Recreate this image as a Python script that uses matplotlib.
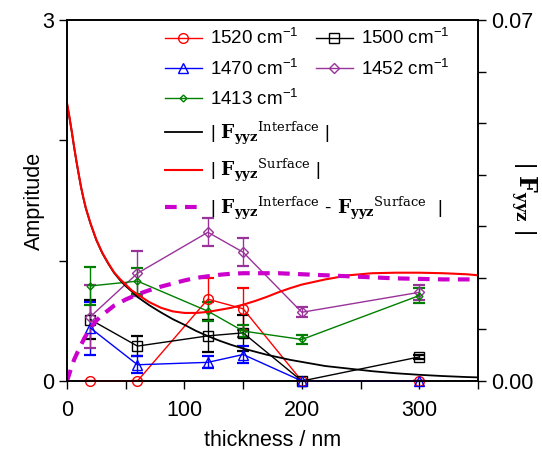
import matplotlib
matplotlib.use("Agg")
import matplotlib.pyplot as plt
from matplotlib.ticker import FixedLocator, FixedFormatter

plt.rcParams['font.family'] = ['Liberation Sans', 'DejaVu Sans']
plt.rcParams['mathtext.fontset'] = 'custom'
plt.rcParams['mathtext.rm'] = 'Liberation Sans'
plt.rcParams['mathtext.bf'] = 'DejaVu Serif:bold'
plt.rcParams['mathtext.sf'] = 'DejaVu Serif'
plt.rcParams['mathtext.it'] = 'DejaVu Serif:italic'

# ---------------- data (left axis, Amplitude) ----------------
thickness = [20, 60, 120, 150, 200, 300]

amp_1520 = [0.0, 0.0, 0.68, 0.60, 0.0, 0.0]
err_1520 = [0.0, 0.0, 0.175, 0.175, 0.0, 0.0]

amp_1500 = [0.51, 0.29, 0.375, 0.40, 0.0, 0.20]
err_1500 = [0.16, 0.08, 0.135, 0.15, 0.0, 0.02]

amp_1470 = [0.44, 0.135, 0.155, 0.22, 0.0, 0.0]
err_1470 = [0.22, 0.07, 0.05, 0.07, 0.0, 0.0]

amp_1413 = [0.79, 0.83, 0.58, 0.415, 0.345, 0.71]
err_1413 = [0.16, 0.105, 0.08, 0.05, 0.035, 0.065]

amp_1452 = [0.535, 0.895, 1.236, 1.07, 0.571, 0.737]
err_1452 = [0.26, 0.185, 0.115, 0.117, 0.04, 0.06]

# ---------------- model curves (right axis, |F_yyz|) ----------------
curve_x = [0, 2, 4, 6, 8, 10, 12, 14, 16, 18, 20, 25, 30, 35, 40, 45, 50, 55, 60,
           70, 80, 90, 100, 110, 120, 130, 140, 150, 160, 170, 180, 190, 200,
           220, 240, 260, 280, 300, 320, 340, 350]

f_surface = [0.0539, 0.0513, 0.0485, 0.0455, 0.0427, 0.0401, 0.0376, 0.0355, 0.0336,
             0.0321, 0.0306, 0.0274, 0.0249, 0.0229, 0.0211, 0.0198, 0.0187, 0.0176,
             0.0168, 0.0153, 0.0142, 0.0135, 0.0132, 0.0132, 0.0134, 0.0138, 0.0142,
             0.0148, 0.0155, 0.0163, 0.0172, 0.0180, 0.0187, 0.0197, 0.0205, 0.0209,
             0.0210, 0.0210, 0.0209, 0.0207, 0.0205]

f_interface = [0.0538, 0.0512, 0.0484, 0.0454, 0.0426, 0.0400, 0.0375, 0.0354, 0.0335,
               0.0320, 0.0305, 0.0273, 0.0248, 0.0228, 0.0210, 0.0196, 0.0184, 0.0174,
               0.0163, 0.0147, 0.0133, 0.0120, 0.0109, 0.0097, 0.0087, 0.0078, 0.0070,
               0.0063, 0.0057, 0.0051, 0.0046, 0.0041, 0.0037, 0.0029, 0.0024, 0.0019,
               0.0015, 0.0012, 0.00096, 0.00077, 0.0007]

diff_x = [0, 2, 4, 6, 8, 10, 15, 20, 25, 30, 40, 50, 60, 70, 80, 90, 100, 110, 120,
          130, 140, 150, 160, 180, 200, 220, 240, 260, 280, 300, 320, 350]
f_diff = [0.0, 0.0014, 0.0028, 0.0041, 0.0051, 0.0061, 0.0084, 0.0103, 0.0117, 0.0128,
          0.0146, 0.0158, 0.0168, 0.0176, 0.0183, 0.0189, 0.0195, 0.0200, 0.0203,
          0.0206, 0.0208, 0.0209, 0.0209, 0.0209, 0.0207, 0.0205, 0.0203, 0.0201,
          0.0199, 0.0198, 0.0197, 0.0197]

labels_data = ['1520 cm$^{-1}$', '1500 cm$^{-1}$', '1470 cm$^{-1}$',
               '1452 cm$^{-1}$', '1413 cm$^{-1}$']
label_int = r'$|\ \mathbf{F}_{\mathbf{yyz}}{}^{\mathsf{Interface}}\ |$'
label_surf = r'$|\ \mathbf{F}_{\mathbf{yyz}}{}^{\mathsf{Surface}}\ |$'
label_diff = (r'$|\ \mathbf{F}_{\mathbf{yyz}}{}^{\mathsf{Interface}}\ \text{-}\ '
              r'\mathbf{F}_{\mathbf{yyz}}{}^{\mathsf{Surface}}\ \ |$')

# ---------------- figure ----------------
W, H = 542, 454
fig = plt.figure(figsize=(W / 100, H / 100), dpi=100)
ax = fig.add_axes([67 / W, 1 - 381 / H, (478 - 67) / W, (381 - 20) / H])

RED = '#FF0000'
BLUE = '#0000FF'
GREEN = '#007F00'
PURPLE = '#993399'
MAG = '#CC00CC'

series = [
    (amp_1520, err_1520, RED, 'o', 7, labels_data[0]),
    (amp_1500, err_1500, 'black', 's', 7, labels_data[1]),
    (amp_1470, err_1470, BLUE, '^', 7, labels_data[2]),
    (amp_1452, err_1452, PURPLE, 'D', 5.5, labels_data[3]),
    (amp_1413, err_1413, GREEN, 'D', 3.5, labels_data[4]),
]
handles = {}
for y, e, c, m, ms, lab in series:
    ax.errorbar(thickness, y, yerr=e, fmt='none', ecolor=c, elinewidth=1.0,
                capsize=4, capthick=1.6, zorder=2)
    h, = ax.plot(thickness, y, color=c, lw=1.0, marker=m, ms=ms,
                 mfc='none', mec=c, mew=1.0, label=lab, zorder=3, clip_on=False)
    handles[lab] = h

ax.set_xlim(0, 350)
ax.set_ylim(0, 3)
ax.xaxis.set_major_locator(FixedLocator([0, 50, 100, 150, 200, 250, 300, 350]))
ax.xaxis.set_major_formatter(FixedFormatter(['0', '', '100', '', '200', '', '300', '']))
ax.yaxis.set_major_locator(FixedLocator([0, 1, 2, 3]))
ax.yaxis.set_major_formatter(FixedFormatter(['0', '', '', '3']))
ax.tick_params(direction='out', length=6, width=1.0, labelsize=15.5, colors='black')
ax.tick_params(axis='x', pad=8)
for s in ax.spines.values():
    s.set_linewidth(1.2)
ax.set_xlabel('thickness / nm', fontsize=15.5, labelpad=6)
ax.set_ylabel('Ampritude', fontsize=15.5, labelpad=-2)

ax2 = ax.twinx()
ax2.set_ylim(0, 0.07)
ax2.yaxis.set_major_locator(FixedLocator([0, 0.01, 0.02, 0.03, 0.04, 0.05, 0.06, 0.07]))
ax2.yaxis.set_major_formatter(FixedFormatter(['0.00', '', '', '', '', '', '', '0.07']))
ax2.tick_params(direction='out', length=6, width=1.0, labelsize=15.5)
for s in ax2.spines.values():
    s.set_linewidth(1.2)

h_int, = ax2.plot(curve_x, f_interface, color='black', lw=1.3, label=label_int)
h_surf, = ax2.plot(curve_x, f_surface, color=RED, lw=1.5, label=label_surf)
h_diff, = ax2.plot(diff_x, f_diff, color=MAG, lw=3.0, ls=(0, (2.8, 2.0)), label=label_diff)

fig.text(523 / W, 1 - 198 / H, r'$|\ \mathbf{F}_{\mathbf{yyz}}\ |$', rotation=270,
         ha='center', va='center', fontsize=17)

common = dict(bbox_transform=fig.transFigure, frameon=False, fontsize=13.5,
              handlelength=1.95, handletextpad=0.45, labelspacing=0.55,
              borderpad=0, borderaxespad=0, loc='upper left')
legA = ax2.legend([handles[labels_data[0]], handles[labels_data[2]], handles[labels_data[4]],
                   h_int, h_surf, h_diff],
                  [labels_data[0], labels_data[2], labels_data[4], label_int, label_surf, label_diff],
                  bbox_to_anchor=(165 / W, 1 - 28 / H), **common)
ax2.add_artist(legA)
legB = ax2.legend([handles[labels_data[1]], handles[labels_data[3]]],
                  [labels_data[1], labels_data[3]],
                  bbox_to_anchor=(316 / W, 1 - 28 / H), **common)

fig.savefig('out.png', dpi=100)
